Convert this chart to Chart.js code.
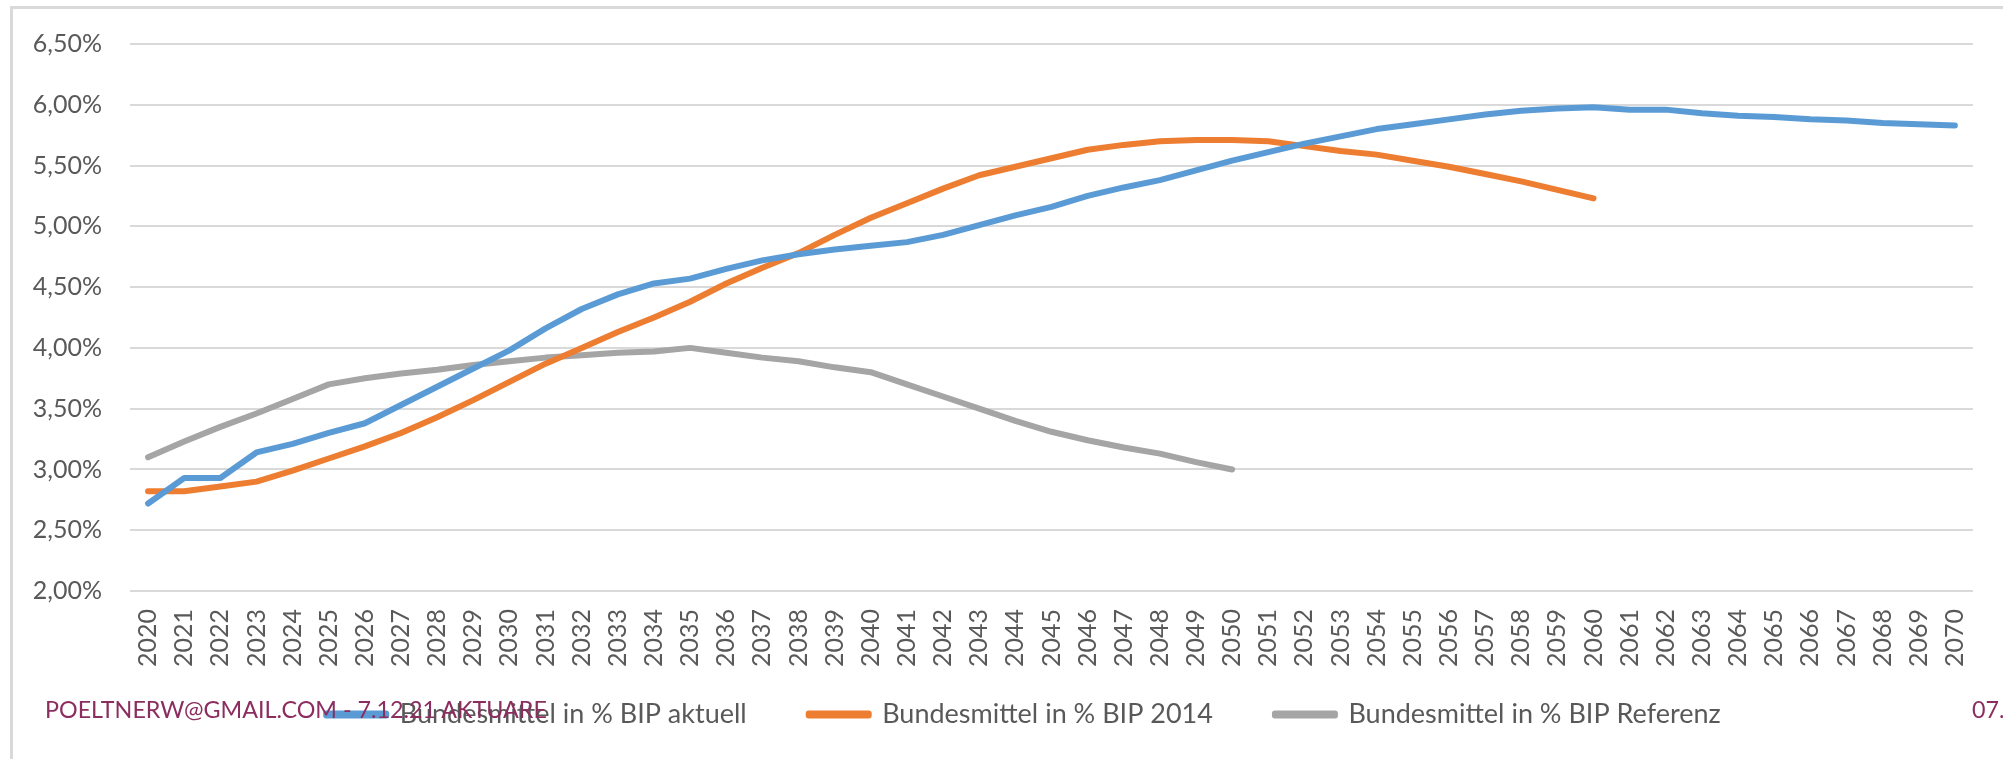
<!DOCTYPE html>
<html>
<head>
<meta charset="utf-8">
<script src="https://cdn.jsdelivr.net/npm/chart.js@4/dist/chart.umd.min.js"></script>
<style>
  html, body { margin: 0; padding: 0; background: #ffffff; }
  #wrap { position: relative; width: 2003px; height: 759px; overflow: hidden; }
  #frame { position: absolute; left: 10px; top: 6px; width: 2100px; height: 900px;
           border-left: 3px solid #d9d9d9; border-top: 3px solid #d9d9d9; box-sizing: border-box; }
  canvas { position: absolute; left: 0; top: 0; }
  .foot { position: absolute; font-family: Lato, sans-serif; color: #8b2d5f; font-size: 23.3px; white-space: nowrap; }
</style>
</head>
<body>
<div id="wrap">
  <div id="frame"></div>
  <canvas id="c" width="2003" height="759"></canvas>
  <div class="foot" id="wm" style="left:45px; top:695px;">POELTNERW@GMAIL.COM - 7.12.21 AKTUARE</div>
  <div class="foot" id="pg" style="left:1972px; top:695px;">07.</div>
</div>
<script>
const years = [];
for (let y = 2020; y <= 2070; y++) years.push(String(y));

const aktuell = [2.72, 2.93, 2.93, 3.14, 3.21, 3.30, 3.38, 3.53, 3.68, 3.83,
  3.98, 4.16, 4.32, 4.44, 4.53, 4.57, 4.65, 4.72, 4.77, 4.81,
  4.84, 4.87, 4.93, 5.01, 5.09, 5.16, 5.25, 5.32, 5.38, 5.46,
  5.54, 5.61, 5.68, 5.74, 5.80, 5.84, 5.88, 5.92, 5.95, 5.97,
  5.98, 5.96, 5.96, 5.93, 5.91, 5.90, 5.88, 5.87, 5.85, 5.84, 5.83];

const bip2014 = [2.82, 2.82, 2.86, 2.90, 2.99, 3.09, 3.19, 3.30, 3.43, 3.57,
  3.72, 3.87, 4.00, 4.13, 4.25, 4.38, 4.53, 4.66, 4.78, 4.93,
  5.07, 5.19, 5.31, 5.42, 5.49, 5.56, 5.63, 5.67, 5.70, 5.71,
  5.71, 5.70, 5.66, 5.62, 5.59, 5.54, 5.49, 5.43, 5.37, 5.30, 5.23];

const referenz = [3.10, 3.23, 3.35, 3.46, 3.58, 3.70, 3.75, 3.79, 3.82, 3.86,
  3.89, 3.92, 3.94, 3.96, 3.97, 4.00, 3.96, 3.92, 3.89, 3.84,
  3.80, 3.70, 3.60, 3.50, 3.40, 3.31, 3.24, 3.18, 3.13, 3.06, 3.00];

const seriesNames = ['Bundesmittel in % BIP aktuell', 'Bundesmittel in % BIP 2014', 'Bundesmittel in % BIP Referenz'];
const yMin = 2.0, yMax = 6.5, yStep = 0.5;

const colors = ['#5b9bd5', '#ed7d31', '#a5a5a5'];
const FONT = 'Lato';

function ds(label, data, color) {
  return {
    label, data,
    borderColor: color, backgroundColor: color,
    borderWidth: 6, pointRadius: 0, pointHoverRadius: 0,
    borderCapStyle: 'round', borderJoinStyle: 'round',
    tension: 0, fill: false
  };
}

// nudge the legend row so it sits where the reference places it
const legendShift = {
  id: 'legendShift',
  afterLayout(chart) {
    const l = chart.legend;
    if (l) { l.left += 14; l.right += 14; l.top -= 28; }
  }
};

new Chart(document.getElementById('c'), {
  type: 'line',
  data: {
    labels: years,
    datasets: [
      ds(seriesNames[0], aktuell, colors[0]),
      ds(seriesNames[1], bip2014, colors[1]),
      ds(seriesNames[2], referenz, colors[2])
    ]
  },
  plugins: [legendShift],
  options: {
    responsive: false,
    animation: false,
    devicePixelRatio: 1,
    layout: { padding: { left: 28, right: 12, top: 44, bottom: 21 } },
    plugins: {
      tooltip: { enabled: false },
      legend: {
        position: 'bottom',
        maxHeight: 71,
        labels: {
          color: '#595959',
          font: { family: FONT, size: 27 },
          boxWidth: 60, boxHeight: 2,
          padding: 62
        }
      }
    },
    scales: {
      x: {
        offset: true,
        grid: { display: false, drawTicks: false },
        border: { display: false },
        ticks: {
          color: '#595959', font: { family: FONT, size: 25 },
          minRotation: 90, maxRotation: 90, autoSkip: false, padding: 18
        },
        afterFit: s => { s.height = 76; }
      },
      y: {
        min: yMin, max: yMax,
        grid: { color: '#d9d9d9', lineWidth: 2, drawTicks: false },
        border: { display: false },
        ticks: {
          stepSize: yStep, color: '#595959', font: { family: FONT, size: 25 }, padding: 28,
          callback: v => v.toFixed(2).replace('.', ',') + '%'
        },
        afterFit: s => { s.width = 102; }
      }
    }
  }
});
</script>
</body>
</html>
